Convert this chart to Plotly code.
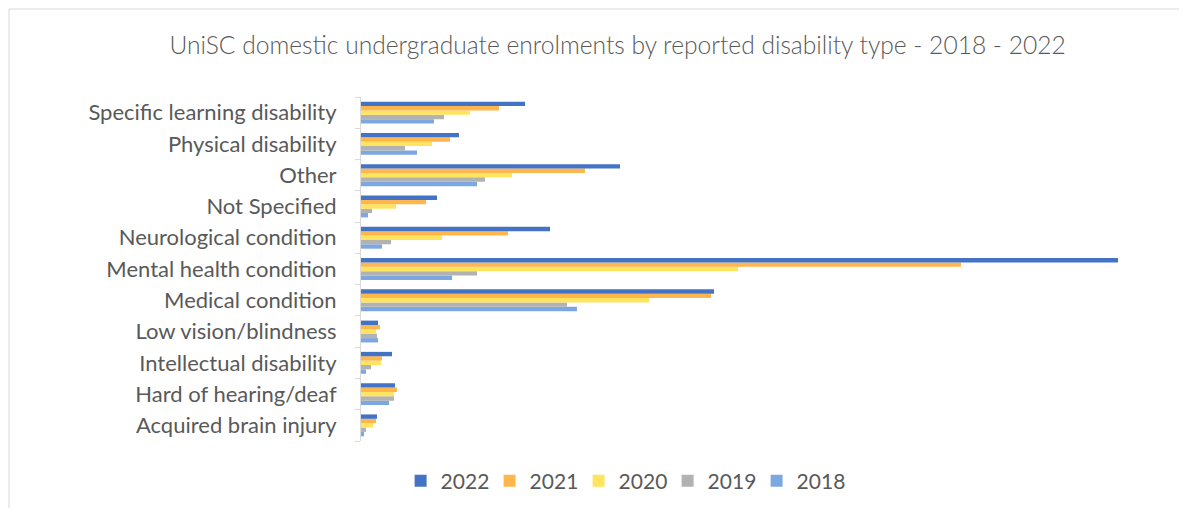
"""UniSC domestic undergraduate enrolments by reported disability type (2018-2022)."""
import plotly.graph_objects as go

# categories (bottom -> top, as drawn)
CATEGORIES = [
    "Acquired brain injury", "Hard of hearing/deaf", "Intellectual disability",
    "Low vision/blindness", "Medical condition", "Mental health condition",
    "Neurological condition", "Not Specified", "Other", "Physical disability",
    "Specific learning disability",
]

# values (same order as CATEGORIES)
Y2022 = [16, 34, 31, 17, 353, 757, 189, 76, 259, 98, 164]
Y2021 = [15, 36, 21, 19, 350, 600, 147, 65, 224, 89, 138]
Y2020 = [12, 33, 20, 15, 288, 377, 81, 35, 151, 71, 109]
Y2019 = [5, 33, 10, 16, 206, 116, 30, 11, 124, 44, 83]
Y2018 = [3, 28, 5, 17, 216, 91, 21, 7, 116, 56, 73]

SERIES = [  # drawn bottom -> top inside each group
    ("2018", Y2018, "#7DA7E0"),
    ("2019", Y2019, "#B2B2B2"),
    ("2020", Y2020, "#FFE460"),
    ("2021", Y2021, "#FFB64D"),
    ("2022", Y2022, "#4472C4"),
]

FONT = "Lato, 'Open Sans', sans-serif"
GREY = "#595959"

fig = go.Figure()
for name, vals, color in SERIES:
    fig.add_trace(go.Bar(
        y=CATEGORIES, x=vals, name=name, orientation="h",
        marker=dict(color=color, line=dict(width=0)),
    ))

# page body has an 8px margin, so the figure is 8px smaller than the window
fig.update_layout(
    width=1179, height=500,
    barmode="group", bargap=0.3, bargroupgap=0,
    paper_bgcolor="white", plot_bgcolor="white",
    margin=dict(l=353, r=66, t=89, b=67),
    font=dict(family=FONT, color=GREY, size=21),
    title=dict(
        text="UniSC domestic undergraduate enrolments by reported disability type - 2018 - 2022",
        x=0.517, xanchor="center", y=1 - 37 / 500, yanchor="middle",
        font=dict(size=24.6, color=GREY, family=FONT, weight=300),
    ),
    legend=dict(
        orientation="h", traceorder="reversed",
        xref="container", yref="container",
        x=0.333, xanchor="left", y=0.054, yanchor="middle",
        font=dict(size=21, color=GREY), itemwidth=30,
        entrywidth=44, entrywidthmode="pixels",
    ),
    showlegend=True,
)
fig.update_xaxes(visible=False, range=[0, 760])
fig.update_yaxes(
    showline=True, linecolor="#d9d9d9", linewidth=1,
    ticks="outside", ticklen=5, tickcolor="#d9d9d9", tickson="boundaries",
    showgrid=False, ticklabelstandoff=19,
    tickfont=dict(size=22, color=GREY),
)

# outer chart border (top and left edges visible)
fig.add_shape(type="rect", xref="paper", yref="paper",
              x0=(9 - 361) / 760, x1=1.3, y0=-0.6, y1=1 + (97 - 9) / 344,
              line=dict(color="#d9d9d9", width=1), layer="below")

fig.write_html("out.html")
